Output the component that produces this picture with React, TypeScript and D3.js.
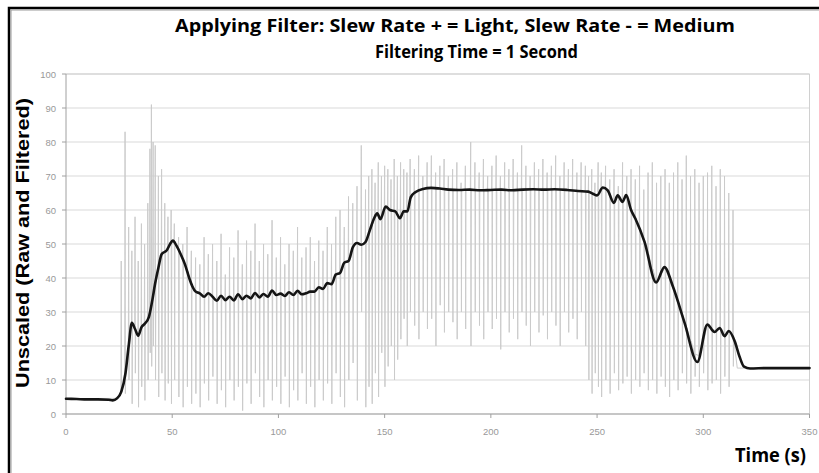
import React from 'react';
import * as d3 from 'd3';

const W = 819;
const H = 473;

const titleLine1 = 'Applying Filter: Slew Rate + = Light, Slew Rate - = Medium';
const titleLine2 = 'Filtering Time = 1 Second';
const yTitle = 'Unscaled (Raw and Filtered)';
const xTitle = 'Time (s)';

const xTicks = [0, 50, 100, 150, 200, 250, 300, 350];
const yTicks = [0, 10, 20, 30, 40, 50, 60, 70, 80, 90, 100];

// Filtered signal (black)
const filtTimes = [
  0, 5, 10, 15, 20, 22, 24, 26, 28, 29.5, 31, 32.5, 34, 35.5, 37, 39, 40.5, 42, 43.5, 45,
  47.5, 49, 50.3, 52, 54, 56, 58, 59.5, 61, 63, 65, 67, 69, 71, 73, 75, 77, 79, 81, 83,
  85, 87, 89, 91, 93, 95, 97, 99, 101, 103, 105, 107, 109, 111, 113, 115, 117, 119, 121, 123,
  125, 127, 129, 131, 133, 135, 137, 139, 141, 143, 145, 146.5, 148, 150.5, 152.5, 155, 157.2, 159, 160.7, 162.3,
  164.6, 168, 172, 176, 180, 185, 190, 195, 200, 205, 210, 215, 220, 225, 230, 236, 241, 245.8, 248, 250,
  252.7, 255, 257.9, 259.7, 262, 263.7, 266, 268, 272.3, 277.8, 281.7, 285.7, 291.2, 297.2, 301.9, 305.3, 307.7, 310, 312, 314.8,
  317, 319.2, 322, 330, 350,
];
const filtValues = [
  4.5, 4.4, 4.3, 4.3, 4.2, 4.0, 4.6, 6.5, 12, 20, 26.8, 25, 23, 25.5, 26.5, 28.5, 33, 38.5, 43, 47,
  48.2, 50, 51, 49.5, 47, 44, 40, 37.5, 36, 35.5, 34.5, 35.5, 34.5, 33.3, 34.8, 33.5, 34.5, 33.4, 35.2, 33.8,
  34.8, 34.0, 35.6, 34.3, 35.3, 34.5, 36.3, 35.0, 35.4, 34.7, 35.8, 35.0, 36.2, 35.2, 35.5, 36.0, 36.0, 37.3, 36.8, 38.5,
  38.2, 41, 41.5, 44.5, 45, 49, 50.3, 49.8, 50.6, 54, 57.5, 59, 57.3, 61, 60, 59.6, 57.6, 59.6, 59.6, 63.8,
  65.3, 66.2, 66.5, 66.3, 66, 65.9, 66, 65.8, 65.9, 66, 65.8, 66, 66.1, 66, 66.1, 65.9, 65.6, 65.4, 64.8, 64.3,
  66.6, 65.8, 62.1, 64.3, 62.4, 64.4, 60, 57.5, 50.7, 38.7, 43.2, 37.5, 26.8, 15.3, 26.3, 24.1, 25.3, 22.9, 24.4, 21.4,
  17, 13.9, 13.4, 13.5, 13.5,
];

// Raw signal (light grey): spikes at each time, reaching a high and a low value
const spikeTimes = [
  26, 27.8, 29.5, 31, 32.5, 34, 35.5, 37, 38.5, 39.5, 40.2, 41, 42, 43.5, 45, 46.5, 48, 49.5, 51, 53,
  55, 57, 59, 61, 63, 65, 67, 69, 71, 73, 75, 77, 79, 81, 83, 85, 87, 89, 91, 93,
  95, 97, 99, 101, 103, 105, 107, 109, 111, 113, 115, 117, 119, 121, 123, 125, 127, 129, 131, 133,
  135, 137, 139, 141, 142.5, 144, 145.5, 147, 148.5, 150, 151.5, 153, 154.5, 156, 157.5, 159, 160.5, 162, 164, 166,
  168, 170, 172, 174, 176, 178, 180, 182, 184, 186, 188, 190.5, 192.5, 194.5, 196.5, 198.5, 200.5, 202.5, 204.5, 206.5,
  208.5, 210.5, 212.5, 214.5, 216.5, 218.5, 220.5, 222.5, 224.5, 226.5, 228.5, 230.5, 232.5, 234.5, 236.5, 238.5, 240.5, 242.5, 244.5, 246,
  247.5, 249, 250.5, 252, 254, 256, 258, 260, 262, 264, 266, 268, 270, 272, 274, 276, 278, 280, 282, 284,
  286, 288, 290, 292, 294, 296, 298, 300, 302, 304, 306, 308, 310, 312, 314,
];
const spikeHigh = [
  45, 83, 55, 48, 58, 45, 56, 50, 62, 78, 91, 80, 79, 70, 72, 62, 58, 60, 56, 52,
  50, 55, 48, 46, 44, 52, 47, 50, 45, 53, 41, 49, 46, 54, 44, 51, 48, 56, 45, 50,
  47, 57, 46, 52, 44, 50, 48, 55, 46, 49, 52, 45, 51, 48, 55, 50, 58, 60, 55, 64,
  62, 67, 79, 66, 70, 72, 68, 74, 70, 73, 72, 69, 75, 70, 74, 72, 71, 75, 72, 76,
  70, 74, 76, 71, 73, 75, 70, 72, 74, 68, 73, 80, 74, 71, 75, 70, 73, 76, 70, 74,
  72, 75, 71, 79, 73, 70, 74, 72, 75, 71, 73, 76, 70, 74, 72, 75, 71, 74, 73, 70,
  72, 68, 74, 71, 73, 69, 72, 67, 74, 70, 72, 69, 73, 66, 71, 74, 68, 70, 72, 68,
  71, 74, 69, 76, 70, 72, 68, 70, 71, 73, 67, 72, 70, 65, 60,
];
const spikeLow = [
  8, 6, 10, 3, 12, 2, 8, 4, 10, 18, 14, 20, 10, 5, 12, 4, 9, 3, 10, 5,
  2, 8, 3, 6, 2, 9, 4, 11, 3, 7, 2, 10, 4, 8, 1, 9, 3, 12, 5, 2,
  10, 4, 8, 3, 11, 2, 7, 4, 12, 3, 8, 2, 10, 4, 9, 3, 12, 5, 2, 10,
  15, 4, 30, 2, 8, 3, 12, 5, 18, 8, 14, 20, 10, 16, 22, 28, 20, 30, 26, 22,
  30, 25, 28, 20, 32, 24, 30, 27, 22, 30, 25, 20, 30, 26, 22, 30, 25, 28, 19, 30,
  24, 28, 22, 30, 26, 20, 30, 24, 29, 22, 30, 26, 20, 30, 24, 28, 22, 30, 20, 10,
  6, 12, 8, 5, 10, 6, 12, 7, 9, 11, 6, 10, 8, 12, 7, 10, 6, 11, 8, 5,
  10, 7, 12, 9, 6, 11, 8, 12, 7, 9, 10, 6, 11, 8, 14,
];
const rawHeadTimes = [0, 24];
const rawHeadValues = [4.5, 4.6];
const rawTailTimes = [316, 350];
const rawTailValues = [13.5, 13.5];

export default function App() {
  const x = d3.scaleLinear().domain([0, 350]).range([66, 809.5]);
  const y = d3.scaleLinear().domain([0, 100]).range([414, 74]);

  const filtAt = d3.scaleLinear().domain(filtTimes).range(filtValues);

  const rawPts: [number, number][] = [];
  rawHeadTimes.forEach((t, i) => rawPts.push([t, rawHeadValues[i]]));
  spikeTimes.forEach((t, i) => {
    const b = filtAt(t);
    rawPts.push([t - 0.15, b]);
    rawPts.push([t, spikeHigh[i]]);
    rawPts.push([t + 0.15, spikeLow[i]]);
    rawPts.push([t + 0.3, b]);
  });
  rawTailTimes.forEach((t, i) => rawPts.push([t, rawTailValues[i]]));

  const filtPts: [number, number][] = filtTimes.map((t, i) => [t, filtValues[i]]);

  const rawLine = d3.line<[number, number]>().x(d => x(d[0])).y(d => y(d[1]));
  const filtLine = d3
    .line<[number, number]>()
    .x(d => x(d[0]))
    .y(d => y(d[1]))
    .curve(d3.curveMonotoneX);

  const x0 = x(0);
  const x1 = x(350);
  const y0 = y(0);
  const y1 = y(100);

  return (
    <svg
      width={W}
      height={H}
      viewBox={`0 0 ${W} ${H}`}
      style={{ position: 'absolute', left: 0, top: 0, background: '#fff' }}
    >
      {/* outer frame */}
      <path d={`M9,${H + 5} L9,8 L${W + 5},8`} fill="none" stroke="#000" strokeWidth={2.5} />
      <path d={`M11,${H + 5} L11,10 L${W + 5},10`} fill="none" stroke="#999" strokeWidth={1} />

      {/* grid */}
      {yTicks.map(t => (
        <line key={`g${t}`} x1={x0} x2={x1} y1={y(t)} y2={y(t)} stroke="#d9d9d9" strokeWidth={1} />
      ))}
      <line x1={x1} x2={x1} y1={y1} y2={y0} stroke="#d0d0d0" strokeWidth={1} />
      <line x1={x0} x2={x1} y1={y1} y2={y1} stroke="#cfcfcf" strokeWidth={1.2} />

      {/* raw */}
      <path d={rawLine(rawPts) || ''} fill="none" stroke="#cbcbcb" strokeWidth={1} strokeLinejoin="round" />

      {/* axes */}
      <line x1={x0} x2={x0} y1={y1} y2={y0} stroke="#a0a0a0" strokeWidth={1} />
      <line x1={x0} x2={x1} y1={y0} y2={y0} stroke="#a0a0a0" strokeWidth={1.2} />
      {yTicks.map(t => (
        <line key={`yt${t}`} x1={x0 - 4} x2={x0} y1={y(t)} y2={y(t)} stroke="#a0a0a0" strokeWidth={1} />
      ))}
      {xTicks.map(t => (
        <line key={`xt${t}`} x1={x(t)} x2={x(t)} y1={y0} y2={y0 + 4} stroke="#a0a0a0" strokeWidth={1} />
      ))}

      {/* filtered */}
      <path
        d={filtLine(filtPts) || ''}
        fill="none"
        stroke="#151515"
        strokeWidth={2.6}
        strokeLinejoin="round"
        strokeLinecap="round"
      />

      {/* tick labels */}
      {yTicks.map(t => (
        <text
          key={`yl${t}`}
          x={x0 - 10}
          y={y(t) + 3.5}
          textAnchor="end"
          fontFamily="'Liberation Sans', Arial, sans-serif"
          fontSize={9.5}
          fill="#999"
        >
          {t}
        </text>
      ))}
      {xTicks.map(t => (
        <text
          key={`xl${t}`}
          x={x(t)}
          y={y0 + 21}
          textAnchor="middle"
          fontFamily="'Liberation Sans', Arial, sans-serif"
          fontSize={9.5}
          fill="#999"
        >
          {t}
        </text>
      ))}

      {/* titles */}
      <text
        x={175}
        y={32}
        textLength={560}
        lengthAdjust="spacingAndGlyphs"
        fontFamily="'Open Sans', sans-serif"
        fontWeight={700}
        fontSize={18}
        fill="#000"
      >
        {titleLine1}
      </text>
      <text
        x={375}
        y={58}
        textLength={203}
        lengthAdjust="spacingAndGlyphs"
        fontFamily="'Open Sans', sans-serif"
        fontWeight={700}
        fontSize={18}
        fill="#000"
      >
        {titleLine2}
      </text>
      <text
        transform={`translate(29,${(98 + 388) / 2}) rotate(-90)`}
        textAnchor="middle"
        textLength={290}
        lengthAdjust="spacingAndGlyphs"
        fontFamily="'Liberation Sans', Arial, sans-serif"
        fontWeight={700}
        fontSize={18}
        fill="#000"
      >
        {yTitle}
      </text>
      <text
        x={735}
        y={462}
        textLength={71}
        lengthAdjust="spacingAndGlyphs"
        fontFamily="'Open Sans', sans-serif"
        fontWeight={700}
        fontSize={19}
        fill="#000"
      >
        {xTitle}
      </text>
    </svg>
  );
}
